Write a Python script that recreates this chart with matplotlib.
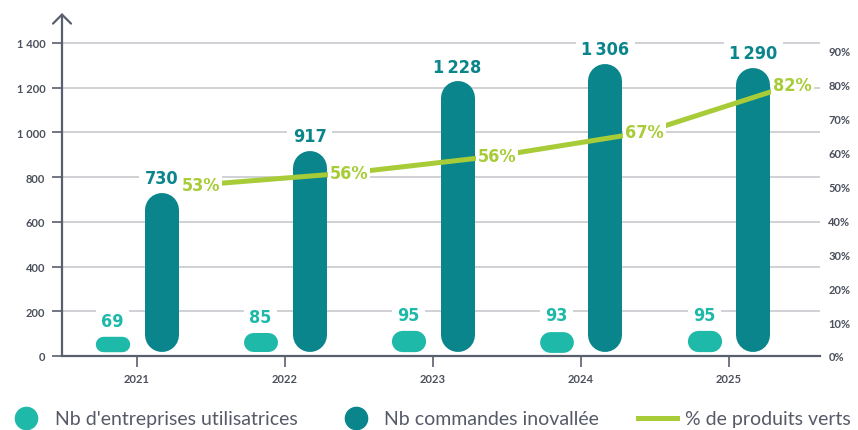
import numpy as np
import matplotlib
matplotlib.use("Agg")
import matplotlib.pyplot as plt
from matplotlib.lines import Line2D
from matplotlib import font_manager as fm

# data
years = ["2021", "2022", "2023", "2024", "2025"]
entreprises = [69, 85, 95, 93, 95]
commandes = [730, 917, 1228, 1306, 1290]
# where the green line sits on the right axis, and the labels printed on it
pct_line = [50.5, 54, 59, 66, 80]
pct_labels = ["53%", "56%", "56%", "67%", "82%"]
left_ticks = [0, 200, 400, 600, 800, 1000, 1200, 1400]
right_ticks = [0, 10, 20, 30, 40, 50, 60, 70, 80, 90]

# colours
dark_teal = "#09858b"
light_teal = "#1fb9aa"
green = "#a8cc38"
axis_gray = "#5a5f6e"
text_gray = "#4b505c"
grid_gray = "#c8c9ce"
legend_gray = "#565a68"

plt.rcParams["font.family"] = ["Lato", "DejaVu Sans"]

# look for a narrow / condensed bold font for the value labels
narrow = None
for f in fm.fontManager.ttflist:
    name = f.name.lower()
    is_narrow = "narrow" in name or "condensed" in name or "condensed" in str(f.stretch)
    if is_narrow:
        if narrow is None or (f.weight in ("bold", 700) and narrow.weight not in ("bold", 700)):
            narrow = f
if narrow is not None:
    num_prop = fm.FontProperties(fname=narrow.fname, size=13)
else:
    num_prop = fm.FontProperties(family="DejaVu Sans", weight="bold", stretch="condensed", size=12)


def fmt(v):
    # thousands with a narrow space, like the labels of the picture
    return f"{v:,}".replace(",", "\u202f")


W, H = 858, 431
fig = plt.figure(figsize=(W / 100, H / 100), dpi=100)
ax = fig.add_axes([62 / W, 74 / H, 758 / W, 343 / H])
ax.set_xlim(-0.507, 4.615)
ax.set_ylim(0, 1534)

# pixel -> data conversion helpers
pos = ax.get_position()
x_per_px = (ax.get_xlim()[1] - ax.get_xlim()[0]) / (pos.width * W)
y_per_px = (ax.get_ylim()[1] - ax.get_ylim()[0]) / (pos.height * H)

x = np.arange(len(years))
offset = 24.5 * x_per_px
bar_px = 34
gap = 4 * y_per_px

for i in range(len(years)):
    # big rounded bar (commandes)
    xd = x[i] + offset
    r = (bar_px / 2) * y_per_px
    ax.plot([xd, xd], [gap + r, commandes[i] - r], color=dark_teal,
            lw=bar_px * 0.72, solid_capstyle="round", zorder=3)
    ax.annotate(fmt(commandes[i]), xy=(xd, commandes[i]),
                xytext=(0, 4), textcoords="offset points", ha="center", va="bottom",
                fontproperties=num_prop, color=dark_teal,
                bbox=dict(boxstyle="square,pad=0.3", fc="white", ec="none"), zorder=4)

    # small pill (entreprises)
    xl = x[i] - offset
    h_px = entreprises[i] / y_per_px
    half = (bar_px / 2 - h_px / 2) * x_per_px
    yc = gap + entreprises[i] / 2
    ax.plot([xl - half, xl + half], [yc, yc], color=light_teal,
            lw=h_px * 0.72, solid_capstyle="round", zorder=3)
    ax.annotate(str(entreprises[i]), xy=(xl, gap + entreprises[i]),
                xytext=(0, 5), textcoords="offset points", ha="center", va="bottom",
                fontproperties=num_prop, color=light_teal,
                bbox=dict(boxstyle="square,pad=0.3", fc="white", ec="none"), zorder=4)

ax.set_yticks(left_ticks)
ax.set_yticklabels([f"{t:,}".replace(",", " ") for t in left_ticks])
ax.set_xticks(x)
ax.set_xticklabels(years)
ax.yaxis.grid(True, color=grid_gray, lw=1.2)
ax.set_axisbelow(True)
for s in ["top", "right", "left"]:
    ax.spines[s].set_visible(False)
ax.spines["bottom"].set_color(axis_gray)
ax.spines["bottom"].set_linewidth(1.6)
ax.tick_params(axis="y", length=7, width=1.2, color=axis_gray, pad=5,
               labelsize=8, labelcolor=text_gray)
ax.tick_params(axis="x", length=8, width=1.2, color=axis_gray, pad=4,
               labelsize=8, labelcolor=text_gray)
for lab in ax.get_xticklabels() + ax.get_yticklabels():
    lab.set_fontweight("bold")

# left axis with an arrow on top
ax.annotate("", xy=(0, 1), xytext=(0, 0), xycoords="axes fraction",
            arrowprops=dict(arrowstyle="->,head_length=0.65,head_width=0.65",
                            color=axis_gray, lw=1.6, shrinkA=0, shrinkB=0),
            annotation_clip=False)

# right axis: % de produits verts
ax2 = ax.twinx()
ax2.set_ylim(0, 101.2)
ax2.set_yticks(right_ticks)
ax2.set_yticklabels([f"{t}%" for t in right_ticks])
ax2.tick_params(axis="y", length=0, pad=6, labelsize=8, labelcolor=text_gray)
for lab in ax2.get_yticklabels():
    lab.set_fontweight("bold")
for s in ax2.spines.values():
    s.set_visible(False)

xp = x + 0.43
ax2.plot(xp, pct_line, color=green, lw=3.6, solid_capstyle="butt", zorder=3)
for i in range(len(years)):
    ax2.text(xp[i], pct_line[i], pct_labels[i], ha="center", va="center",
             fontproperties=num_prop, color=green,
             bbox=dict(boxstyle="square,pad=0.1", fc="white", ec="none"), zorder=4)

# legend
handles = [
    Line2D([], [], ls="", marker="o", ms=16, color=light_teal),
    Line2D([], [], ls="", marker="o", ms=16, color=dark_teal),
    Line2D([], [], color=green, lw=3.6),
]
names = ["Nb d'entreprises utilisatrices", "Nb commandes inovallée", "% de produits verts"]
leg = fig.legend(handles, names, loc="center", bbox_to_anchor=(0.5, 1 - 420 / H),
                 ncol=3, frameon=False, handlelength=2.0,
                 prop=fm.FontProperties(family=["Lato", "DejaVu Sans"], size=14),
                 handletextpad=0.45, columnspacing=2.0, borderaxespad=0)
for t in leg.get_texts():
    t.set_color(legend_gray)

fig.savefig("out.png", dpi=100)
